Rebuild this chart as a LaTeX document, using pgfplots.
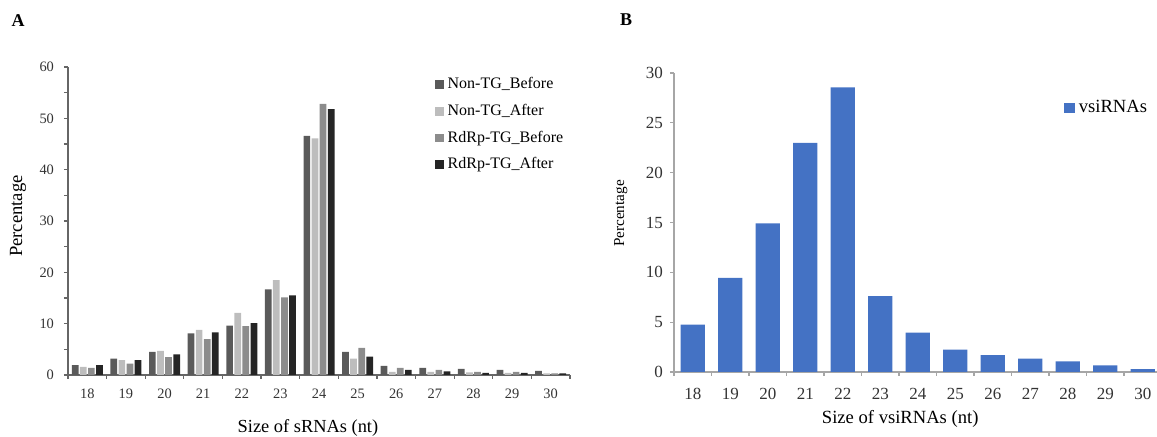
\documentclass[border=0pt]{standalone}
\usepackage{pgfplots}
\pgfplotsset{compat=1.18}
\usepackage{fontspec}
\setmainfont{Liberation Serif}
\definecolor{cA}{HTML}{5A5A5A}
\definecolor{cB}{HTML}{BDBDBD}
\definecolor{cC}{HTML}{8C8C8C}
\definecolor{cD}{HTML}{252525}
\definecolor{cBlue}{HTML}{4472C4}
\pgfplotstableread{
x nb na rb ra
0 1.9 1.6 1.4 1.9
1 3.2 2.9 2.2 2.9
2 4.5 4.7 3.5 4.0
3 8.1 8.8 7.0 8.3
4 9.6 12.1 9.5 10.1
5 16.7 18.5 15.1 15.5
6 46.6 46.1 52.8 51.8
7 4.5 3.2 5.3 3.6
8 1.8 0.6 1.4 1.0
9 1.4 0.6 1.0 0.7
10 1.2 0.5 0.6 0.4
11 1.0 0.4 0.6 0.4
12 0.8 0.3 0.3 0.3
}\dataA
\pgfplotstableread{
x v
0 4.75
1 9.45
2 14.9
3 23.0
4 28.55
5 7.6
6 3.95
7 2.25
8 1.7
9 1.35
10 1.07
11 0.67
12 0.3
}\dataB
\begin{document}
\begin{tikzpicture}
\clip (0,0) rectangle (578.5pt,218.5pt);
\begin{axis}[
  at={(34pt,31pt)}, anchor=south west,
  scale only axis, width=251pt, height=154pt,
  ybar=0.7pt, bar width=3.35pt,
  xmin=-0.5, xmax=12.5, ymin=0, ymax=60,
  axis x line*=bottom, axis y line*=left,
  axis line style={gray!80!black, line width=0.6pt},
  xtick={0,...,12}, xticklabels={18,19,20,21,22,23,24,25,26,27,28,29,30},
  major x tick style={draw=none},
  minor xtick={-0.5,0.5,...,12.5},
  ytick={0,10,...,60}, minor ytick={5,15,...,55},
  tick align=outside, major tick length=2pt, minor tick length=2pt,
  every tick/.style={gray!80!black, line width=0.6pt},
  /pgf/number format/assume math mode=true,
  tick label style={font=\fontsize{7.2}{8}\selectfont, text=black!80},
  xticklabel style={yshift=-1.5pt},
  yticklabel style={xshift=-1.5pt},
  ylabel={Percentage}, xlabel={Size of sRNAs (nt)},
  ylabel style={font=\fontsize{9.3}{10}\selectfont, at={(axis description cs:-0.0996,0.516)}, anchor=center},
  xlabel style={font=\fontsize{9.2}{10}\selectfont, at={(axis description cs:0.478,-0.172)}, anchor=center},
  legend style={draw=none, fill=none, at={(0.73,0.98)}, anchor=north west,
    font=\fontsize{8}{9}\selectfont, row sep=2.2pt, inner sep=0pt,
    /tikz/every even column/.append style={column sep=0pt}},
  legend image code/.code={\fill[#1] (0pt,-2.2pt) rectangle (4.4pt,2.2pt);},
  legend cell align=left,
]
\addplot[fill=cA, draw=none] table[x=x,y=nb] {\dataA};
\addplot[fill=cB, draw=none] table[x=x,y=na] {\dataA};
\addplot[fill=cC, draw=none] table[x=x,y=rb] {\dataA};
\addplot[fill=cD, draw=none] table[x=x,y=ra] {\dataA};
\legend{Non-TG\_Before, Non-TG\_After, RdRp-TG\_Before, RdRp-TG\_After}
\end{axis}
\begin{axis}[
  at={(337pt,32.5pt)}, anchor=south west,
  scale only axis, width=243.75pt, height=149.5pt,
  ybar, bar width=12.2pt,
  xmin=-0.5, xmax=12.5, ymin=0, ymax=30,
  axis x line*=bottom, axis y line*=left,
  axis line style={gray!70, line width=0.6pt},
  xtick={0,...,12}, xticklabels={18,19,20,21,22,23,24,25,26,27,28,29,30},
  major x tick style={draw=none},
  minor xtick={-0.5,0.5,...,12.5},
  ytick={0,5,...,30},
  tick align=outside, major tick length=2pt, minor tick length=2pt,
  every tick/.style={gray!70, line width=0.6pt},
  /pgf/number format/assume math mode=true,
  tick label style={font=\fontsize{8.5}{9}\selectfont, text=black!80},
  xticklabel style={yshift=-2.5pt},
  ylabel={Percentage}, xlabel={Size of vsiRNAs (nt)},
  ylabel style={font=\fontsize{7.6}{8}\selectfont, at={(axis description cs:-0.109,0.53)}, anchor=center},
  xlabel style={font=\fontsize{9.3}{10}\selectfont, at={(axis description cs:0.464,-0.157)}, anchor=center},
  legend style={draw=none, fill=none, at={(0.8,0.883)}, anchor=west,
    font=\fontsize{9.3}{10}\selectfont, inner sep=0pt},
  legend image code/.code={\fill[#1] (0pt,-2.6pt) rectangle (5.2pt,2.6pt);},
]
\addplot[fill=cBlue, draw=none] table[x=x,y=v] {\dataB};
\legend{vsiRNAs}
\end{axis}
\node[font=\bfseries\fontsize{9}{10}\selectfont] at (9pt,208pt) {A};
\node[font=\bfseries\fontsize{9}{10}\selectfont] at (313pt,208.5pt) {B};
\end{tikzpicture}
\end{document}
